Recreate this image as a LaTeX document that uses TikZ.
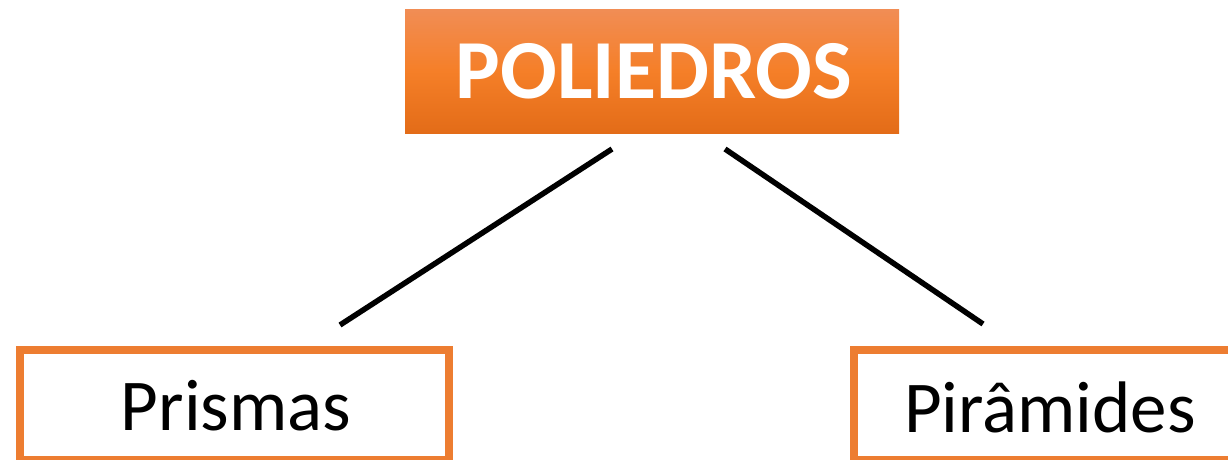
\documentclass[tikz,border=0pt]{standalone}
\usepackage{fontspec}
\setmainfont{Carlito}
\definecolor{accent}{RGB}{237,125,49}
\definecolor{gtop}{RGB}{241,141,85}
\definecolor{gmid}{RGB}{245,127,40}
\definecolor{gbot}{RGB}{227,108,24}
\tikzset{
  topbox/.style={rectangle, inner sep=0pt, minimum width=494pt, minimum height=124pt,
    top color=gtop, bottom color=gbot, middle color=gmid, shading angle=0},
  toptext/.style={text=white, font=\fontsize{84}{90}\selectfont\bfseries, inner sep=0pt, anchor=base},
  leafbox/.style={rectangle, draw=accent, line width=8pt, inner sep=0pt,
    minimum width=429pt, minimum height=110pt},
  leaftext/.style={font=\fontsize{73}{80}\selectfont, text=black, inner sep=0pt, anchor=base},
  conn/.style={line width=5.5pt, black}
}
\begin{document}
\begin{tikzpicture}[x=1pt,y=-1pt]
\useasboundingbox (0,0) rectangle (1228,459);
\clip (0,0) rectangle (1228,459);
\node[topbox] (top) at (652,71) {};
\node[toptext] (tt) at (654,98) {POLIEDROS};
\node[leafbox] (left) at (234.5,405) {};
\node[leafbox, minimum width=400pt] (right) at (1054,405) {};
\node[leaftext] (lt) at (236,430) {Prismas};
\node[leaftext] (rt) at (1050,432) {Pirâmides};
\coordinate (a1) at (612,149);
\coordinate (a2) at (340,325);
\coordinate (b1) at (725,149);
\coordinate (b2) at (983,324);
\draw[conn] (a1) -- (a2);
\draw[conn] (b1) -- (b2);
\end{tikzpicture}
\end{document}
